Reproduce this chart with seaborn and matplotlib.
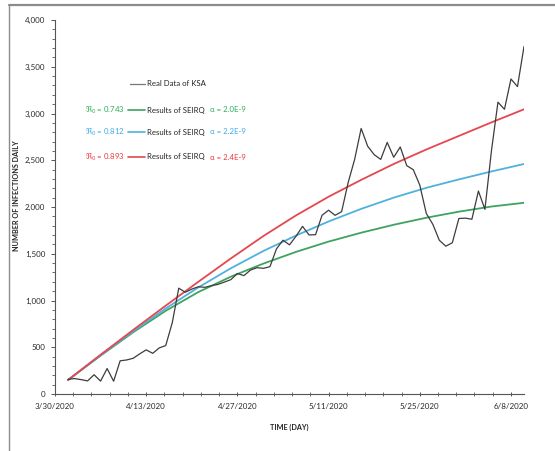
import numpy as np
import pandas as pd
import matplotlib
matplotlib.use("Agg")
import matplotlib.pyplot as plt
import matplotlib.dates as mdates
from matplotlib.lines import Line2D
from matplotlib.ticker import FuncFormatter, MultipleLocator, FixedLocator
import seaborn as sns

# ---------------- data ----------------
real_start = "2020-04-01"
real_cases = [157, 165, 154, 140, 206, 138, 272, 137, 355, 364,
              382, 429, 472, 435, 493, 518, 762, 1132, 1088, 1122,
              1147, 1141, 1158, 1172, 1197, 1223, 1289, 1266, 1325, 1351,
              1344, 1362, 1552, 1645, 1595, 1687, 1793, 1701, 1704, 1912,
              1966, 1911, 1950, 2260, 2509, 2840, 2650, 2560, 2509, 2691,
              2532, 2642, 2442, 2399, 2235, 1931, 1815, 1644, 1581, 1618,
              1877, 1881, 1869, 2171, 1975, 2600, 3121, 3045, 3369, 3288,
              3717]

model_start = "2020-04-01"
model_step_days = 5
model_red = [150, 420, 685, 945, 1200, 1450, 1690, 1910, 2110, 2290, 2460, 2615, 2760, 2905, 3045]
model_blue = [150, 415, 670, 915, 1140, 1345, 1530, 1695, 1845, 1980, 2100, 2205, 2295, 2380, 2460]
model_green = [150, 410, 660, 890, 1090, 1255, 1395, 1520, 1630, 1725, 1810, 1885, 1950, 2005, 2045]

r0_labels = ["0.743", "0.812", "0.893"]
alpha_labels = ["2.0E-9", "2.2E-9", "2.4E-9"]

x_start = "2020-03-30"
x_end = "2020-06-10"
y_max = 4000

# ---------------- styling ----------------
sns.set_theme(style="white")
plt.rcParams["font.family"] = ["Lato", "DejaVu Sans"]
plt.rcParams["mathtext.fontset"] = "dejavusans"

C_RED = "#e5474f"
C_BLUE = "#4fb1de"
C_GREEN = "#3ea35e"
C_BLACK = "#3d3d3d"
T_RED = "#ee3a3f"
T_BLUE = "#3fa9e6"
T_GREEN = "#2fae5a"

W, H = 555, 451
fig = plt.figure(figsize=(W / 100, H / 100), dpi=100)
fig.patch.set_facecolor("white")


def fx(px):
    return px / W


def fy(py):
    return 1 - py / H


ax = fig.add_axes([fx(55), fy(394), fx(524) - fx(55), fy(20) - fy(394)])
ax.set_facecolor("white")

real_df = pd.DataFrame({
    "date": pd.date_range(real_start, periods=len(real_cases), freq="D"),
    "value": real_cases,
})
model_dates = pd.date_range(model_start, periods=len(model_red), freq=f"{model_step_days}D")
model_df = pd.DataFrame({"date": model_dates, "red": model_red,
                         "blue": model_blue, "green": model_green})

sns.lineplot(data=model_df, x="date", y="green", ax=ax, color=C_GREEN, lw=1.3)
sns.lineplot(data=model_df, x="date", y="blue", ax=ax, color=C_BLUE, lw=1.3)
sns.lineplot(data=model_df, x="date", y="red", ax=ax, color=C_RED, lw=1.3)
sns.lineplot(data=real_df, x="date", y="value", ax=ax, color=C_BLACK, lw=0.9)

ax.set_xlim(pd.Timestamp(x_start), pd.Timestamp(x_end))
ax.set_ylim(0, y_max)

major_dates = pd.date_range(x_start, x_end, freq="14D")
minor_dates = pd.date_range(x_start, x_end, freq=pd.Timedelta(days=2.8))
ax.xaxis.set_major_locator(FixedLocator(mdates.date2num(major_dates)))
ax.xaxis.set_minor_locator(FixedLocator(mdates.date2num(minor_dates)))


def date_fmt(v, pos):
    d = mdates.num2date(v)
    return f"{d.month}/{d.day}/{d.year}"


ax.xaxis.set_major_formatter(FuncFormatter(date_fmt))
ax.yaxis.set_major_locator(MultipleLocator(500))
ax.yaxis.set_minor_locator(MultipleLocator(100))
ax.yaxis.set_major_formatter(FuncFormatter(lambda v, p: f"{int(v):,}"))

for s in ["top", "right"]:
    ax.spines[s].set_visible(False)
for s in ["left", "bottom"]:
    ax.spines[s].set_color("#555555")
    ax.spines[s].set_linewidth(0.8)

ax.tick_params(axis="y", which="major", direction="out", length=3, width=0.7,
               color="#555555", labelsize=5.8, labelcolor="#2a2a2a", pad=4, left=True)
ax.tick_params(axis="y", which="minor", direction="out", length=2, width=0.6,
               color="#555555", left=True)
ax.tick_params(axis="x", which="major", direction="inout", length=3, width=0.7,
               color="#555555", labelsize=5.8, labelcolor="#2a2a2a", pad=5, bottom=True)
ax.tick_params(axis="x", which="minor", direction="inout", length=3, width=0.6,
               color="#555555", bottom=True)

ax.set_xlabel("")
ax.set_ylabel("")
fig.text(fx(289), fy(427), "TIME (DAY)", ha="center", va="center",
         fontsize=5.2, fontweight="bold", color="#222222")
fig.text(fx(17), fy(196), "NUMBER OF INFECTIONS DAILY", ha="center", va="center",
         rotation=90, fontsize=5.2, fontweight="bold", color="#222222")

# legend-like annotations
fs = 5.6
fig.add_artist(Line2D([fx(130), fx(145)], [fy(84), fy(84)], color="#777777", lw=0.9))
fig.text(fx(147), fy(84), "Real Data of KSA", ha="left", va="center",
         fontsize=fs, color="#222222")

rows = [(110, C_GREEN, T_GREEN), (132, C_BLUE, T_BLUE), (157, C_RED, T_RED)]
for (py, lc, tc), r0, al in zip(rows, r0_labels, alpha_labels):
    fig.text(fx(125), fy(py), r"$\Re_0$" + f" = {r0}", ha="right", va="center",
             fontsize=fs, color=tc)
    fig.add_artist(Line2D([fx(128), fx(145)], [fy(py), fy(py)], color=lc, lw=1.2))
    fig.text(fx(147), fy(py), "Results of SEIRQ", ha="left", va="center",
             fontsize=fs, color="#222222")
    fig.text(fx(210), fy(py), f"\u03b1 = {al}", ha="left", va="center",
             fontsize=fs, color=tc)

# page frame (top and left border)
fig.add_artist(Line2D([fx(9), 1], [fy(5), fy(5)], color="#8c8c8c", lw=1.6))
fig.add_artist(Line2D([fx(9), fx(9)], [fy(5), 0], color="#8c8c8c", lw=1.0))

fig.savefig("out.png", dpi=100, facecolor="white")
